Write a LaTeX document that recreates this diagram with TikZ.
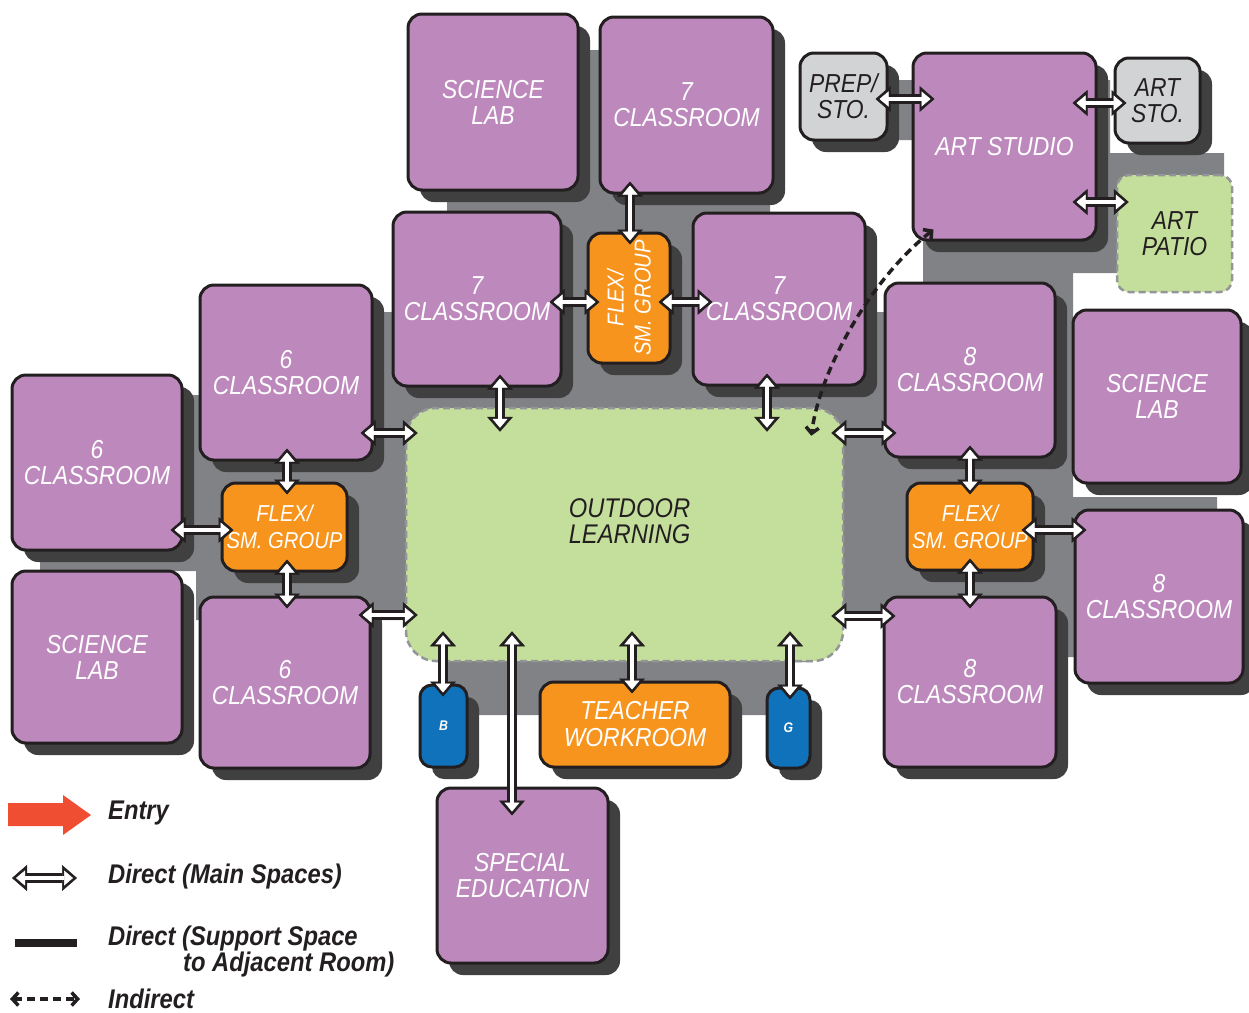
\documentclass[tikz,border=0pt]{standalone}
\usepackage{fontspec}
\usepackage{tikz}
\usetikzlibrary{arrows.meta}
\usetikzlibrary{shadows}
\usetikzlibrary{calc}

\newfontfamily\planfont{Liberation Sans}[FakeStretch=0.88]

\definecolor{roompurple}{RGB}{189,137,189}
\definecolor{flexorange}{RGB}{247,148,29}
\definecolor{outdoorgreen}{RGB}{196,223,155}
\definecolor{supportgray}{RGB}{209,211,212}
\definecolor{restblue}{RGB}{15,114,186}
\definecolor{footgray}{RGB}{128,130,133}
\definecolor{shadowgray}{RGB}{64,64,65}
\definecolor{dashgray}{RGB}{147,149,152}
\definecolor{inkblack}{RGB}{35,31,32}
\definecolor{entryred}{RGB}{240,78,50}

\newcommand{\dirlink}[2]{%
  \draw[dirout] #1 -- #2;
  \draw[dirin] #1 -- #2;}

\tikzset{
  roomsize/.style 2 args={minimum width=#1pt, minimum height=#2pt},
  room/.style={draw=inkblack, line width=3pt, fill=roompurple, rounded corners=14pt,
    text=white, font=\planfont\itshape\fontsize{26}{26}\selectfont, align=center,
    inner sep=0pt,
    drop shadow={shadow xshift=12pt, shadow yshift=-12pt, fill=shadowgray, opacity=1}},
  flex/.style={room, fill=flexorange, font=\planfont\itshape\fontsize{23}{27}\selectfont},
  flexlbl/.style={text=white, align=center, inner sep=0pt,
    font=\planfont\itshape\fontsize{23}{27}\selectfont},
  support/.style={room, fill=supportgray, text=inkblack},
  restroom/.style={room, fill=restblue, rounded corners=12pt,
    font=\planfont\bfseries\itshape\fontsize{14}{14}\selectfont},
  greenarea/.style={draw=dashgray, line width=2.5pt, dash pattern=on 7pt off 4pt,
    fill=outdoorgreen, rounded corners=12pt, text=inkblack, align=center, inner sep=0pt,
    font=\planfont\itshape\fontsize{26}{26}\selectfont},
  outdoortxt/.style={text=inkblack, align=center, inner sep=0pt,
    font=\planfont\itshape\fontsize{27}{26}\selectfont},
  dirout/.style={draw=inkblack, line width=10pt,
    {Triangle[length=15pt,width=26pt,line width=0.5pt]}-{Triangle[length=15pt,width=26pt,line width=0.5pt]},
    shorten <=-13pt, shorten >=-13pt},
  dirin/.style={draw=white, line width=4pt,
    {Triangle[length=9pt,width=15pt,line width=0.5pt]}-{Triangle[length=9pt,width=15pt,line width=0.5pt]},
    shorten <=-9pt, shorten >=-9pt},
  indirect/.style={draw=inkblack, line width=3.5pt, dash pattern=on 8pt off 5pt,
    {Straight Barb[length=6pt,width=13pt]}-{Straight Barb[length=6pt,width=13pt]}},
  supportline/.style={draw=inkblack, line width=8pt},
  keytxt/.style={text=inkblack, anchor=west, align=left, inner sep=0pt,
    font=\planfont\bfseries\itshape\fontsize{27}{26}\selectfont},
}

\begin{document}
\begin{tikzpicture}[x=1pt,y=-1pt]
    \useasboundingbox (0,0) rectangle (1249,1012);
    \fill[footgray] (447,50) -- (770,50) -- (770,213) -- (860,213) -- (860,312)
      -- (890,312) -- (890,290) -- (923,290) -- (923,140) -- (885,140)
      -- (885,80) -- (1110,80) -- (1110,153) -- (1224,153) -- (1224,273)
      -- (1073,273) -- (1073,497) -- (1217,497) -- (1217,520) -- (1080,520)
      -- (1080,657) -- (1050,657) -- (1050,615) -- (848,615) -- (844,628)
      -- (812,662) -- (790,662) -- (790,715) -- (440,715) -- (440,664)
      -- (406,630) -- (405,620) -- (360,620) -- (196,620) -- (196,571)
      -- (40,571) -- (40,555) -- (190,555) -- (190,395) -- (210,395)
      -- (210,312) -- (400,312) -- (400,220) -- (447,220) -- cycle;

    \node[greenarea, rounded corners=30pt, roomsize={437}{253},
      label={[outdoortxt, xshift=5pt, yshift=13pt]center:OUTDOOR\\LEARNING}]
      (outdoor) at (624.5,534.5) {};
    \node[greenarea, roomsize={115}{117}] (artPatio) at (1174.5,233.5) {ART\\PATIO};

    \node[room, roomsize={170}{176}] (sciLabT) at (493,102) {SCIENCE\\LAB};
    \node[room, roomsize={173}{176}] (clsSevenT) at (686.5,105) {7\\CLASSROOM};
    \node[support, roomsize={87}{87}] (prepSto) at (843.5,96.5) {PREP/\\STO.};
    \node[room, roomsize={183}{187}] (artStudio) at (1004.5,146.5) {ART STUDIO};
    \node[support, roomsize={85}{85}] (artSto) at (1157.5,100.5) {ART\\STO.};
    \node[room, roomsize={168}{174}] (clsSevenL) at (477,299) {7\\CLASSROOM};
    \node[flex, roomsize={82}{130}] (flexMid) at (629,298) {};
    \node[flexlbl, rotate=90] (flexMidLbl) at (flexMid.center) {FLEX/\\SM. GROUP};
    \node[room, roomsize={172}{172}] (clsSevenR) at (779,299) {7\\CLASSROOM};
    \node[room, roomsize={172}{175}] (clsSixU) at (286,372.5) {6\\CLASSROOM};
    \node[room, roomsize={170}{175}] (clsSixL) at (97,462.5) {6\\CLASSROOM};
    \node[flex, roomsize={125}{88}] (flexL) at (284.5,527) {FLEX/\\SM. GROUP};
    \node[room, roomsize={170}{172}] (sciLabL) at (97,657) {SCIENCE\\LAB};
    \node[room, roomsize={170}{171}] (clsSixD) at (285,682.5) {6\\CLASSROOM};
    \node[restroom, roomsize={47}{82}] (bRoom) at (443.5,726) {B};
    \node[flex, font=\planfont\itshape\fontsize{26}{27}\selectfont, roomsize={190}{85}]
      (teacher) at (635,724.5) {TEACHER\\WORKROOM};
    \node[restroom, roomsize={43}{80}] (gRoom) at (788.5,728) {G};
    \node[room, roomsize={171}{175}] (specEd) at (522.5,875.5) {SPECIAL\\EDUCATION};
    \node[room, roomsize={170}{174}] (clsEightU) at (970,370) {8\\CLASSROOM};
    \node[room, roomsize={168}{173}] (sciLabR) at (1157,396.5) {SCIENCE\\LAB};
    \node[flex, roomsize={126}{87}] (flexR) at (970,526.5) {FLEX/\\SM. GROUP};
    \node[room, roomsize={168}{173}] (clsEightR) at (1159,596.5) {8\\CLASSROOM};
    \node[room, roomsize={172}{170}] (clsEightD) at (970,682) {8\\CLASSROOM};

    \dirlink{(630,0 |- clsSevenT.south)}{(630,0 |- flexMid.north)}
    \dirlink{(prepSto.east |- 0,99)}{($(artStudio.west |- 0,99)+(10,0)$)}
    \dirlink{($(artStudio.east |- 0,103)+(-12,0)$)}{(artSto.west |- 0,103)}
    \dirlink{($(artStudio.east |- 0,202)+(-12,0)$)}{(artPatio.west |- 0,202)}
    \dirlink{(clsSevenL.east |- 0,302)}{(flexMid.west |- 0,302)}
    \dirlink{(flexMid.east |- 0,302)}{($(clsSevenR.west |- 0,302)+(8,0)$)}
    \dirlink{(500,0 |- clsSevenL.south)}{($(500,0 |- outdoor.north)+(0,12)$)}
    \dirlink{(767,0 |- clsSevenR.south)}{($(767,0 |- outdoor.north)+(0,12)$)}
    \dirlink{(clsSixU.east |- 0,433)}{(outdoor.west |- 0,433)}
    \dirlink{(287,0 |- clsSixU.south)}{(287,0 |- flexL.north)}
    \dirlink{(clsSixL.east |- 0,530)}{(flexL.west |- 0,530)}
    \dirlink{(287,0 |- flexL.south)}{(287,0 |- clsSixD.north)}
    \dirlink{(clsSixD.east |- 0,615)}{(outdoor.west |- 0,615)}
    \dirlink{($(443,0 |- outdoor.south)+(0,-18)$)}{(443,0 |- bRoom.north)}
    \dirlink{($(512,0 |- outdoor.south)+(0,-18)$)}{($(512,0 |- specEd.north)+(0,16)$)}
    \dirlink{($(632,0 |- outdoor.south)+(0,-18)$)}{(632,0 |- teacher.north)}
    \dirlink{($(790,0 |- outdoor.south)+(0,-18)$)}{(790,0 |- gRoom.north)}
    \dirlink{(outdoor.east |- 0,433)}{(clsEightU.west |- 0,433)}
    \dirlink{(970,0 |- clsEightU.south)}{(970,0 |- flexR.north)}
    \dirlink{(flexR.east |- 0,530)}{(clsEightR.west |- 0,530)}
    \dirlink{(970,0 |- flexR.south)}{(970,0 |- clsEightD.north)}
    \dirlink{(outdoor.east |- 0,616)}{(clsEightD.west |- 0,616)}

    \draw[indirect] ([shift={(22,-12)}]artStudio.south west)
      .. controls (870,280) and (820,370) .. ([shift={(-33,29)}]outdoor.north east);

    \fill[entryred] (8,803) -- (63,803) -- (63,795) -- (91,815) -- (63,835)
      -- (63,826) -- (8,826) -- cycle;
    \node[keytxt] (keyEntry) at (108,813) {Entry};
    \coordinate (keyMainA) at (25,878);
    \coordinate (keyMainB) at (64,878);
    \dirlink{(keyMainA)}{(keyMainB)}
    \node[keytxt] (keyMain) at (108,877) {Direct (Main Spaces)};
    \coordinate (keySupA) at (15,943);
    \coordinate (keySupB) at (77,943);
    \draw[supportline] (keySupA) -- (keySupB);
    \node[keytxt] (keySupport) at (108,952) {Direct (Support Space\\\hspace*{75pt}to Adjacent Room)};
    \coordinate (keyIndA) at (10,999);
    \coordinate (keyIndB) at (80,999);
    \draw[indirect] (keyIndA) -- (keyIndB);
    \node[keytxt] (keyIndirect) at (108,999) {Indirect};
\end{tikzpicture}
\end{document}
